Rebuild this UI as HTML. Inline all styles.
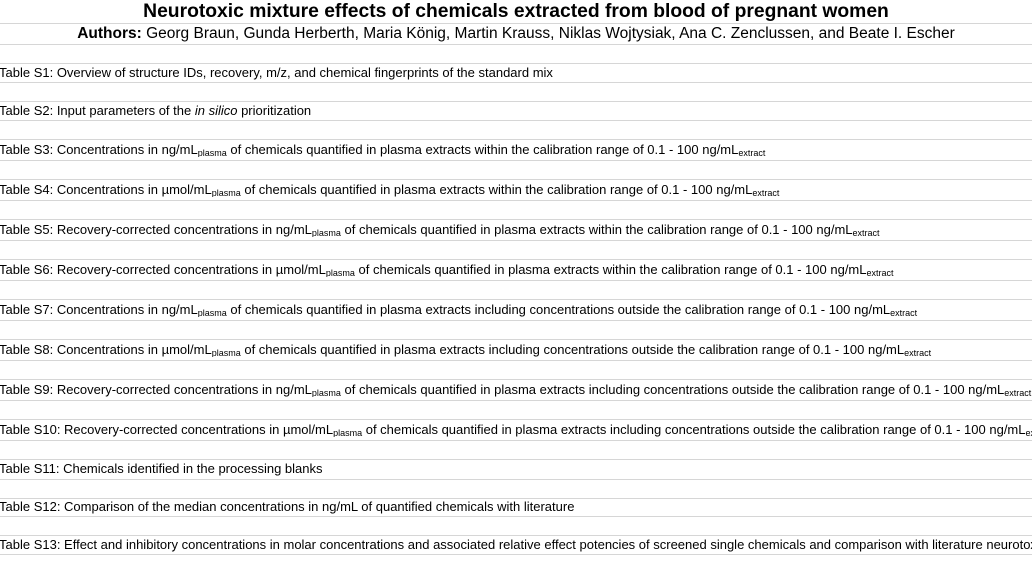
<!DOCTYPE html>
<html><head><meta charset="utf-8"><style>
html,body{margin:0;padding:0;width:1032px;height:568px;overflow:hidden;background:#fff;position:relative;font-family:"Liberation Sans",Arial,sans-serif;color:#000}
.l{position:absolute;left:0;width:1032px;height:1px;background:#d6d6d6}
.t{position:absolute;left:-1px;width:1033px;overflow:hidden;white-space:nowrap;font-size:13px;line-height:14px}
sub{font-size:9px;vertical-align:-2px;line-height:0}
.h1{position:absolute;left:0;width:1032px;text-align:center;top:1px;font-weight:bold;font-size:19.3px;white-space:nowrap}
.h2{position:absolute;left:0;width:1032px;text-align:center;top:25px;font-size:15.5px;white-space:nowrap}
</style></head><body>
<div class="h1">Neurotoxic mixture effects of chemicals extracted from blood of pregnant women</div>
<div class="h2"><b>Authors:</b> Georg Braun, Gunda Herberth, Maria König, Martin Krauss, Niklas Wojtysiak, Ana C. Zenclussen, and Beate I. Escher</div>
<div class="l" style="top:23px"></div><div class="l" style="top:44px"></div>
<div class="l" style="top:63px"></div><div class="l" style="top:82px"></div>
<div class="l" style="top:101px"></div><div class="l" style="top:120px"></div>
<div class="l" style="top:139px"></div><div class="l" style="top:160px"></div>
<div class="l" style="top:179px"></div><div class="l" style="top:200px"></div>
<div class="l" style="top:219px"></div><div class="l" style="top:240px"></div>
<div class="l" style="top:259px"></div><div class="l" style="top:280px"></div>
<div class="l" style="top:299px"></div><div class="l" style="top:320px"></div>
<div class="l" style="top:339px"></div><div class="l" style="top:360px"></div>
<div class="l" style="top:379px"></div><div class="l" style="top:400px"></div>
<div class="l" style="top:419px"></div><div class="l" style="top:440px"></div>
<div class="l" style="top:459px"></div><div class="l" style="top:479px"></div>
<div class="l" style="top:498px"></div><div class="l" style="top:516px"></div>
<div class="l" style="top:535px"></div><div class="l" style="top:554px"></div>

<div class="t" style="top:66px">Table S1: Overview of structure IDs, recovery, m/z, and chemical fingerprints of the standard mix</div>
<div class="t" style="top:104px">Table S2: Input parameters of the <i>in silico</i> prioritization</div>
<div class="t" style="top:143px">Table S3: Concentrations in ng/mL<sub>plasma</sub> of chemicals quantified in plasma extracts within the calibration range of 0.1 - 100 ng/mL<sub>extract</sub></div>
<div class="t" style="top:183px">Table S4: Concentrations in µmol/mL<sub>plasma</sub> of chemicals quantified in plasma extracts within the calibration range of 0.1 - 100 ng/mL<sub>extract</sub></div>
<div class="t" style="top:223px">Table S5: Recovery-corrected concentrations in ng/mL<sub>plasma</sub> of chemicals quantified in plasma extracts within the calibration range of 0.1 - 100 ng/mL<sub>extract</sub></div>
<div class="t" style="top:263px">Table S6: Recovery-corrected concentrations in µmol/mL<sub>plasma</sub> of chemicals quantified in plasma extracts within the calibration range of 0.1 - 100 ng/mL<sub>extract</sub></div>
<div class="t" style="top:303px">Table S7: Concentrations in ng/mL<sub>plasma</sub> of chemicals quantified in plasma extracts including concentrations outside the calibration range of 0.1 - 100 ng/mL<sub>extract</sub></div>
<div class="t" style="top:343px">Table S8: Concentrations in µmol/mL<sub>plasma</sub> of chemicals quantified in plasma extracts including concentrations outside the calibration range of 0.1 - 100 ng/mL<sub>extract</sub></div>
<div class="t" style="top:383px">Table S9: Recovery-corrected concentrations in ng/mL<sub>plasma</sub> of chemicals quantified in plasma extracts including concentrations outside the calibration range of 0.1 - 100 ng/mL<sub>extract</sub></div>
<div class="t" style="top:423px">Table S10: Recovery-corrected concentrations in µmol/mL<sub>plasma</sub> of chemicals quantified in plasma extracts including concentrations outside the calibration range of 0.1 - 100 ng/mL<sub>extract</sub></div>
<div class="t" style="top:462px">Table S11: Chemicals identified in the processing blanks</div>
<div class="t" style="top:500px">Table S12: Comparison of the median concentrations in ng/mL of quantified chemicals with literature</div>
<div class="t" style="top:538px">Table S13: Effect and inhibitory concentrations in molar concentrations and associated relative effect potencies of screened single chemicals and comparison with literature neurotoxicity data</div>
</body></html>
